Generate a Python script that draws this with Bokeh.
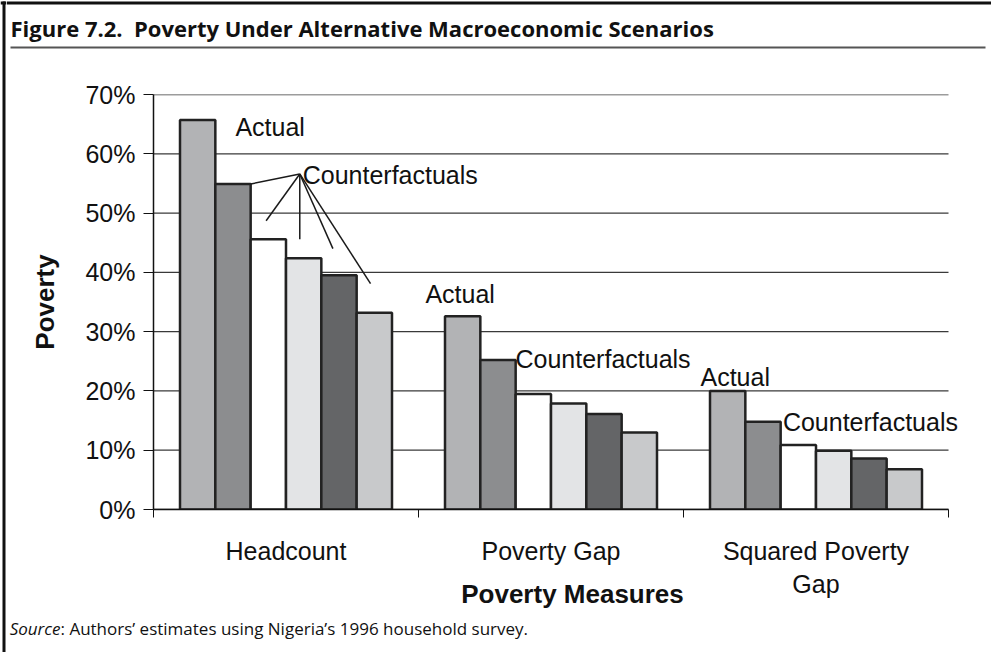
import numpy as np
from bokeh.plotting import figure
from bokeh.layouts import row, column
from bokeh.models import Range1d, FixedTicker, PrintfTickFormatter, Label
from bokeh.embed import file_html
from bokeh.resources import INLINE

# ---- data ----
categories = ["Headcount", "Poverty Gap", "Squared Poverty\nGap"]
actual = [65.7, 32.6, 20.0]
cf1 = [54.9, 25.2, 14.8]
cf2 = [45.6, 19.5, 10.9]
cf3 = [42.4, 17.9, 9.9]
cf4 = [39.5, 16.1, 8.6]
cf5 = [33.2, 13.0, 6.8]
series = [actual, cf1, cf2, cf3, cf4, cf5]
colors = ["#b2b3b5", "#8c8d8f", "#ffffff", "#e3e4e6", "#646567", "#c8c9cb"]
y_ticks = [0, 10, 20, 30, 40, 50, 60, 70]

title_text = "Figure 7.2.\u00a0 Poverty Under Alternative Macroeconomic Scenarios"
source_lead = "Source"
source_rest = ": Authors\u2019 estimates using Nigeria\u2019s 1996 household survey."

# annotation text positions (data units) and leader lines
ann_texts = ["Actual", "Counterfactuals", "Actual", "Counterfactuals", "Actual", "Counterfactuals"]
ann_x = [0.309, 0.563, 1.026, 1.366, 2.064, 2.375]
ann_y = [64.5, 56.5, 36.4, 25.4, 22.3, 14.8]
lead_x0 = [0.552] * 5
lead_y0 = [56.6] * 5
lead_x1 = [0.367, 0.425, 0.552, 0.677, 0.819]
lead_y1 = [54.9, 48.7, 45.6, 44.0, 38.1]

W, H = 991, 652
BAR_W = 6          # left page-frame strip
CW = W - BAR_W     # width of the content column
HEAD_H, FOOT_H = 56, 40
MAIN_H = H - HEAD_H - FOOT_H


def no_align(f):
    if "frame_align" in f.properties():
        f.frame_align = False
    return f


def blank(width, height):
    f = figure(width=width, height=height, output_backend="svg", toolbar_location=None,
               x_range=Range1d(0, width), y_range=Range1d(height, 0),
               x_axis_location=None, y_axis_location=None,
               min_border=0, min_border_left=0, min_border_right=0,
               min_border_top=0, min_border_bottom=0)
    f.outline_line_color = None
    f.background_fill_color = "white"
    f.border_fill_color = "white"
    f.grid.visible = False
    return no_align(f)


# ---- left page-frame strip ----
left = blank(BAR_W, H)
left.quad(left=[0], right=[BAR_W], top=[1], bottom=[4], fill_color="#111111", line_color=None)
left.quad(left=[2], right=[5], top=[1], bottom=[H], fill_color="#111111", line_color=None)

# ---- header ----
head = blank(CW, HEAD_H)
head.quad(left=[0], right=[CW], top=[1], bottom=[4], fill_color="#111111", line_color=None)
head.quad(left=[4], right=[979], top=[46], bottom=[48], fill_color="#555555", line_color=None)
head.add_layout(Label(x=4, y=27, text=title_text, text_font="Open Sans", text_font_style="bold",
                      text_font_size="22px", text_color="#111111", text_baseline="alphabetic"))

# ---- footer ----
foot = blank(CW, FOOT_H)
foot.add_layout(Label(x=54, y=16, text=source_lead, text_font="Open Sans", text_font_style="italic",
                      text_font_size="17px", text_color="#111111", text_baseline="alphabetic",
                      text_align="right"))
foot.add_layout(Label(x=54, y=16, text=source_rest, text_font="Open Sans",
                      text_font_size="17px", text_color="#111111", text_baseline="alphabetic",
                      text_align="left"))

# ---- main chart ----
FL = 153 - BAR_W
FT = 94 - HEAD_H
FB = (HEAD_H + MAIN_H) - 509
cat_px = 265.0
x_end = (CW - FL) / cat_px

p = figure(width=CW, height=MAIN_H, output_backend="svg", toolbar_location=None,
           x_range=Range1d(0, x_end), y_range=Range1d(0, 70),
           min_border_left=FL, min_border_right=0, min_border_top=FT, min_border_bottom=FB)
no_align(p)
p.outline_line_color = None
p.background_fill_color = "white"
p.border_fill_color = "white"

p.segment(x0=[0] * len(y_ticks), y0=y_ticks, x1=[3] * len(y_ticks), y1=y_ticks,
          line_color="#3a3a3a", line_width=1.3, level="underlay")

n = len(series)
bw = 0.8 / n
base = np.arange(len(categories))
for i, (vals, col) in enumerate(zip(series, colors)):
    xs = base + 0.1 + (i + 0.5) * bw
    p.vbar(x=xs, top=vals, bottom=0, width=bw, fill_color=col,
           line_color="#222222", line_width=2.5)

p.segment(x0=lead_x0, y0=lead_y0, x1=lead_x1, y1=lead_y1, line_color="#1a1a1a", line_width=1.5)

for t, x, y in zip(ann_texts, ann_x, ann_y):
    p.add_layout(Label(x=x, y=y, text=t, text_font="Liberation Sans", text_font_size="25px",
                       text_color="#111111", text_baseline="alphabetic", text_align="left"))

xa = p.xaxis[0]
xa.bounds = (0, 3)
xa.ticker = FixedTicker(ticks=[0.5, 1.5, 2.5], minor_ticks=[0, 1, 2, 3])
xa.major_label_overrides = {0.5: categories[0], 1.5: categories[1], 2.5: categories[2]}
xa.major_tick_out = 0
xa.major_tick_in = 0
xa.minor_tick_out = 8
xa.minor_tick_in = 0
xa.minor_tick_line_color = "#111111"
xa.axis_line_color = "#111111"
xa.axis_line_width = 1.5
xa.major_label_text_font = "Liberation Sans"
xa.major_label_text_font_size = "25px"
xa.major_label_text_color = "#111111"
xa.major_label_standoff = 19
xa.axis_label = "Poverty Measures"
xa.axis_label_text_font = "Liberation Sans"
xa.axis_label_text_font_style = "bold"
xa.axis_label_text_font_size = "26px"
xa.axis_label_text_color = "#111111"
xa.axis_label_standoff = -22

ya = p.yaxis[0]
ya.ticker = FixedTicker(ticks=y_ticks)
ya.formatter = PrintfTickFormatter(format="%d%%")
ya.major_tick_out = 10
ya.major_tick_in = 0
ya.minor_tick_out = 0
ya.minor_tick_in = 0
ya.major_tick_line_color = "#111111"
ya.axis_line_color = "#111111"
ya.axis_line_width = 1.5
ya.major_label_text_font = "Liberation Sans"
ya.major_label_text_font_size = "25px"
ya.major_label_text_color = "#111111"
ya.major_label_standoff = 8
ya.axis_label = "Poverty"
ya.axis_label_text_font = "Liberation Sans"
ya.axis_label_text_font_style = "bold"
ya.axis_label_text_font_size = "26px"
ya.axis_label_text_color = "#111111"
ya.axis_label_standoff = 22

p.xgrid.visible = False
p.ygrid.visible = False

layout = row(left, column(head, p, foot))
open("out.html", "w").write(file_html(layout, INLINE))
